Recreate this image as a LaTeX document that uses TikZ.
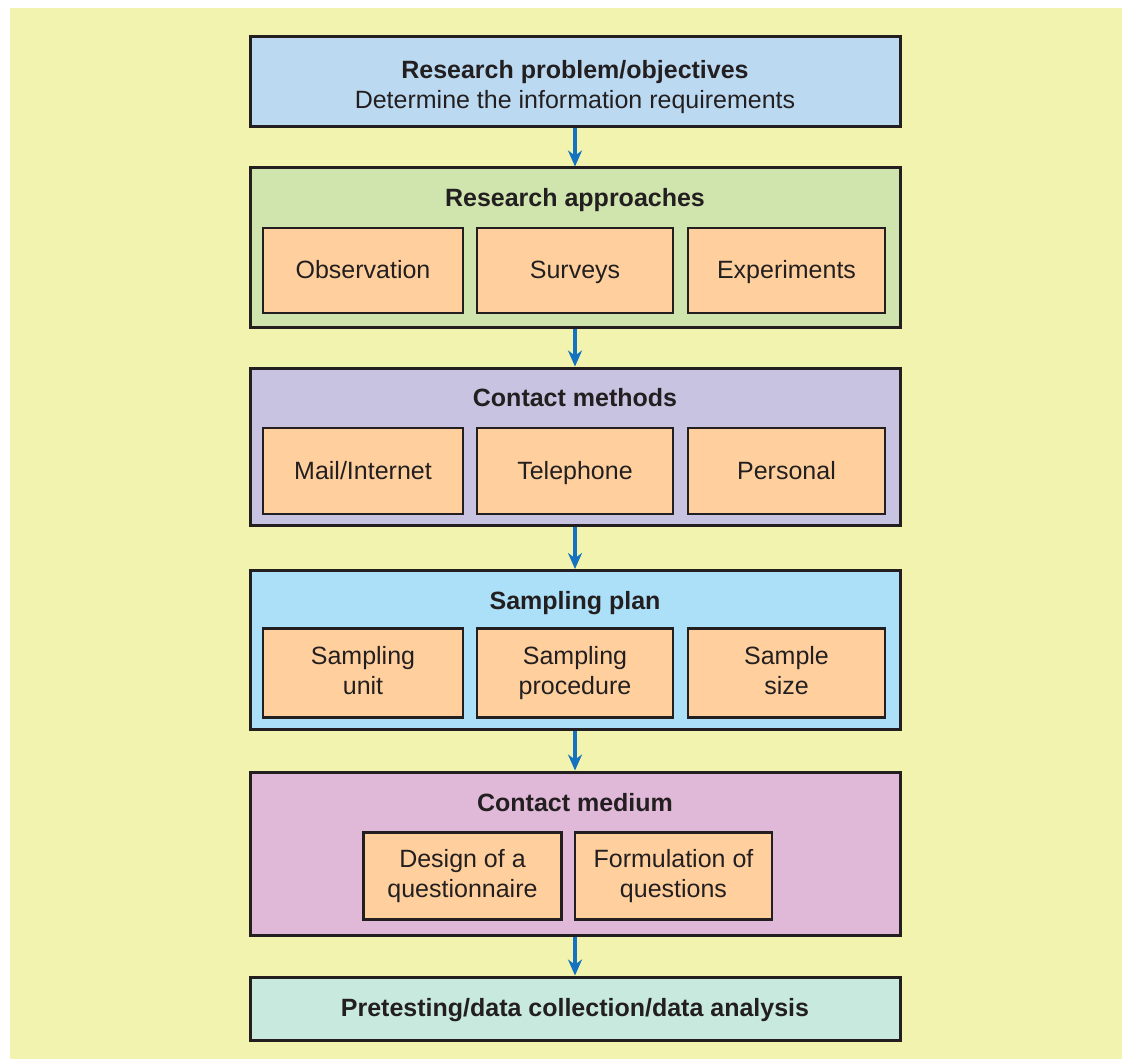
\documentclass[tikz,border=0pt]{standalone}
\usepackage{fontspec}
\setmainfont{Liberation Sans}
\usetikzlibrary{arrows.meta}
\definecolor{bgyellow}{HTML}{F2F3AE}
\definecolor{cblue}{HTML}{BBD9F1}
\definecolor{cgreen}{HTML}{D0E4AE}
\definecolor{cpurple}{HTML}{C7C3E0}
\definecolor{ccyan}{HTML}{ABE0F8}
\definecolor{cpink}{HTML}{E0B8D8}
\definecolor{cteal}{HTML}{C8E9DE}
\definecolor{corange}{HTML}{FFD09D}
\definecolor{cborder}{HTML}{231F20}
\definecolor{carrow}{HTML}{1572C0}
\newcommand{\mystrut}{\rule[-5pt]{0pt}{27pt}}
\tikzset{
  bigbox/.style={draw=cborder, line width=3pt, minimum width=650pt, inner sep=0pt},
  subbox/.style={draw=cborder, line width=2.5pt, fill=corange, inner sep=0pt, align=center,
    font=\fontsize{25}{30}\selectfont, text=cborder,
    execute at begin node=\mystrut, execute at end node=\mystrut},
  ttl/.style={font=\fontsize{25}{30}\selectfont\bfseries, text=cborder, align=center, inner sep=0pt,
    execute at begin node=\mystrut},
  ttlr/.style={font=\fontsize{25}{30}\selectfont, text=cborder, align=center, inner sep=0pt,
    execute at begin node=\mystrut},
  flow/.style={draw=carrow, line width=3.5pt, -{Stealth[length=16pt,width=14pt]}}
}
\begin{document}
\begin{tikzpicture}[x=1pt,y=-1pt]
\useasboundingbox (0,0) rectangle (1122,1059);
\fill[bgyellow] (10,8) rectangle (1122,1059);

% main boxes
\node[bigbox, fill=cblue,   minimum height=90pt]  (b1) at (575,82) {};
\node[bigbox, fill=cgreen,  minimum height=160pt] (b2) at (575,248) {};
\node[bigbox, fill=cpurple, minimum height=157pt] (b3) at (575,446.5) {};
\node[bigbox, fill=ccyan,   minimum height=159pt] (b4) at (575,650) {};
\node[bigbox, fill=cpink,   minimum height=163pt] (b5) at (575,853.5) {};
\node[bigbox, fill=cteal,   minimum height=63pt]  (b6) at (575,1008.5) {};

% titles
\node[ttl]  (t1)  at (575,70)  {Research problem/objectives};
\node[ttlr] (t1b) at (575,100) {Determine the information requirements};
\node[ttl]  (t2)  at (575,198) {Research approaches};
\node[ttl]  (t3)  at (575,398) {Contact methods};
\node[ttl]  (t4)  at (575,601) {Sampling plan};
\node[ttl]  (t5)  at (575,803) {Contact medium};
\node[ttl]  (t6)  at (575,1008) {Pretesting/data collection/data analysis};

% sub boxes row 2
\node[subbox, minimum width=200pt, minimum height=85pt] (s21) at (363,270.5) {Observation};
\node[subbox, minimum width=196pt, minimum height=85pt] (s22) at (575,270.5) {Surveys};
\node[subbox, minimum width=197pt, minimum height=85pt] (s23) at (786.5,270.5) {Experiments};
% row 3
\node[subbox, minimum width=200pt, minimum height=86pt] (s31) at (363,471) {Mail/Internet};
\node[subbox, minimum width=196pt, minimum height=86pt] (s32) at (575,471) {Telephone};
\node[subbox, minimum width=197pt, minimum height=86pt] (s33) at (786.5,471) {Personal};
% row 4
\node[subbox, minimum width=200pt, minimum height=89pt] (s41) at (363,673) {Sampling\\unit};
\node[subbox, minimum width=196pt, minimum height=89pt] (s42) at (575,673) {Sampling\\procedure};
\node[subbox, minimum width=197pt, minimum height=89pt] (s43) at (786.5,673) {Sample\\size};
% row 5
\node[subbox, minimum width=198pt, minimum height=87pt] (s51) at (462.5,876) {Design of a\\questionnaire};
\node[subbox, minimum width=197pt, minimum height=87pt] (s52) at (673.5,876) {Formulation of\\questions};

% arrows
\draw[flow] (b1.south) -- (b2.north);
\draw[flow] (b2.south) -- (b3.north);
\draw[flow] (b3.south) -- (b4.north);
\draw[flow] (b4.south) -- (b5.north);
\draw[flow] (b5.south) -- (b6.north);
\end{tikzpicture}
\end{document}
